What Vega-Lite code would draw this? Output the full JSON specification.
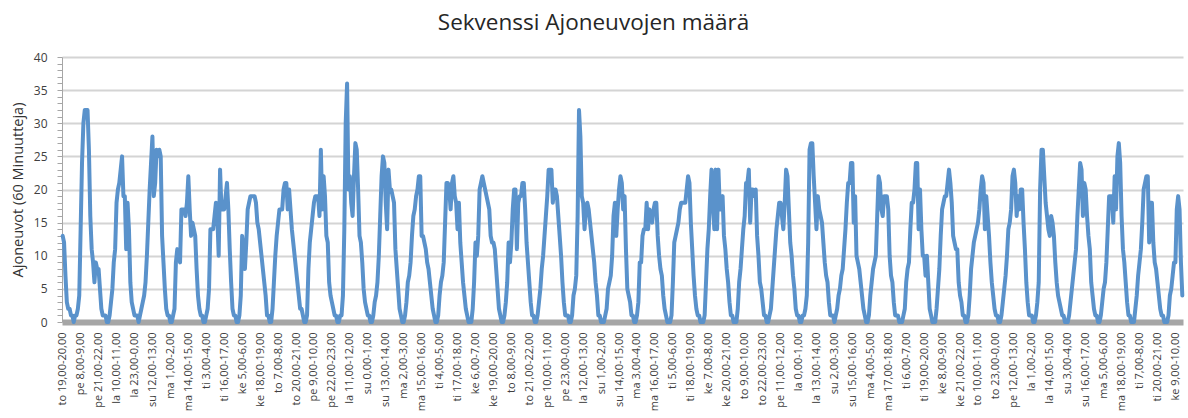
{
"$schema": "https://vega.github.io/schema/vega-lite/v6.json",
"width": 1121, "height": 265,
"autosize": {"type": "none"},
"padding": {"left": 62, "top": 57, "right": 5, "bottom": 96},
"background": "white",
"config": {"view": {"stroke": null}},
"title": {"text": "Sekvenssi Ajoneuvojen määrä", "font": "Open Sans", "fontSize": 22.5, "fontWeight": "normal", "color": "#262626", "anchor": "middle", "dx": -29, "offset": 17},
"data": {"values": [
{"i":0,"v":13},{"i":1,"v":12},{"i":2,"v":7},{"i":3,"v":3},{"i":4,"v":2},
{"i":5,"v":2},{"i":6,"v":1},{"i":7,"v":1},{"i":8,"v":0},{"i":9,"v":1},{"i":10,"v":1},{"i":11,"v":2},{"i":12,"v":4},{"i":13,"v":14},{"i":14,"v":24},{"i":15,"v":30},{"i":16,"v":32},{"i":17,"v":32},{"i":18,"v":32},{"i":19,"v":26},{"i":20,"v":16},{"i":21,"v":11},{"i":22,"v":9},{"i":23,"v":6},{"i":24,"v":9},{"i":25,"v":8},{"i":26,"v":8},{"i":27,"v":5},{"i":28,"v":2},
{"i":29,"v":1},{"i":30,"v":1},{"i":31,"v":1},{"i":32,"v":0},{"i":33,"v":0},{"i":34,"v":1},{"i":35,"v":3},{"i":36,"v":5},{"i":37,"v":9},{"i":38,"v":11},{"i":39,"v":18},{"i":40,"v":20},{"i":41,"v":21},{"i":42,"v":23},{"i":43,"v":25},{"i":44,"v":19},{"i":45,"v":19},{"i":46,"v":11},{"i":47,"v":18},{"i":48,"v":14},{"i":49,"v":6},{"i":50,"v":3},{"i":51,"v":2},{"i":52,"v":1},
{"i":53,"v":1},{"i":54,"v":1},{"i":55,"v":0},{"i":56,"v":1},{"i":57,"v":2},{"i":58,"v":3},{"i":59,"v":4},{"i":60,"v":6},{"i":61,"v":10},{"i":62,"v":15},{"i":63,"v":20},{"i":64,"v":24},{"i":65,"v":28},{"i":66,"v":19},{"i":67,"v":21},{"i":68,"v":26},{"i":69,"v":25},{"i":70,"v":26},{"i":71,"v":25},{"i":72,"v":13},{"i":73,"v":9},{"i":74,"v":5},{"i":75,"v":2},{"i":76,"v":1},
{"i":77,"v":1},{"i":78,"v":0},{"i":79,"v":0},{"i":80,"v":1},{"i":81,"v":2},{"i":82,"v":9},{"i":83,"v":11},{"i":84,"v":10},{"i":85,"v":9},{"i":86,"v":17},{"i":87,"v":17},{"i":88,"v":17},{"i":89,"v":16},{"i":90,"v":18},{"i":91,"v":22},{"i":92,"v":17},{"i":93,"v":13},{"i":94,"v":15},{"i":95,"v":14},{"i":96,"v":13},{"i":97,"v":8},{"i":98,"v":4},{"i":99,"v":2},{"i":100,"v":1},
{"i":101,"v":1},{"i":102,"v":0},{"i":103,"v":0},{"i":104,"v":1},{"i":105,"v":2},{"i":106,"v":5},{"i":107,"v":14},{"i":108,"v":14},{"i":109,"v":14},{"i":110,"v":16},{"i":111,"v":18},{"i":112,"v":16},{"i":113,"v":10},{"i":114,"v":23},{"i":115,"v":17},{"i":116,"v":17},{"i":117,"v":17},{"i":118,"v":19},{"i":119,"v":21},{"i":120,"v":17},{"i":121,"v":11},{"i":122,"v":6},{"i":123,"v":2},{"i":124,"v":1},
{"i":125,"v":1},{"i":126,"v":0},{"i":127,"v":0},{"i":128,"v":1},{"i":129,"v":4},{"i":130,"v":13},{"i":131,"v":11},{"i":132,"v":8},{"i":133,"v":12},{"i":134,"v":17},{"i":135,"v":18},{"i":136,"v":19},{"i":137,"v":19},{"i":138,"v":19},{"i":139,"v":19},{"i":140,"v":18},{"i":141,"v":15},{"i":142,"v":14},{"i":143,"v":12},{"i":144,"v":10},{"i":145,"v":8},{"i":146,"v":6},{"i":147,"v":4},{"i":148,"v":1},
{"i":149,"v":1},{"i":150,"v":0},{"i":151,"v":0},{"i":152,"v":2},{"i":153,"v":6},{"i":154,"v":10},{"i":155,"v":13},{"i":156,"v":15},{"i":157,"v":17},{"i":158,"v":17},{"i":159,"v":17},{"i":160,"v":20},{"i":161,"v":21},{"i":162,"v":21},{"i":163,"v":17},{"i":164,"v":20},{"i":165,"v":17},{"i":166,"v":14},{"i":167,"v":12},{"i":168,"v":10},{"i":169,"v":8},{"i":170,"v":6},{"i":171,"v":4},{"i":172,"v":2},
{"i":173,"v":2},{"i":174,"v":1},{"i":175,"v":0},{"i":176,"v":0},{"i":177,"v":1},{"i":178,"v":8},{"i":179,"v":12},{"i":180,"v":14},{"i":181,"v":16},{"i":182,"v":18},{"i":183,"v":19},{"i":184,"v":19},{"i":185,"v":19},{"i":186,"v":16},{"i":187,"v":26},{"i":188,"v":17},{"i":189,"v":22},{"i":190,"v":19},{"i":191,"v":13},{"i":192,"v":12},{"i":193,"v":6},{"i":194,"v":4},{"i":195,"v":3},{"i":196,"v":2},
{"i":197,"v":1},{"i":198,"v":1},{"i":199,"v":0},{"i":200,"v":0},{"i":201,"v":1},{"i":202,"v":1},{"i":203,"v":4},{"i":204,"v":14},{"i":205,"v":30},{"i":206,"v":36},{"i":207,"v":20},{"i":208,"v":22},{"i":209,"v":18},{"i":210,"v":16},{"i":211,"v":22},{"i":212,"v":27},{"i":213,"v":26},{"i":214,"v":20},{"i":215,"v":13},{"i":216,"v":12},{"i":217,"v":9},{"i":218,"v":5},{"i":219,"v":3},{"i":220,"v":2},
{"i":221,"v":1},{"i":222,"v":1},{"i":223,"v":0},{"i":224,"v":0},{"i":225,"v":1},{"i":226,"v":3},{"i":227,"v":4},{"i":228,"v":6},{"i":229,"v":10},{"i":230,"v":16},{"i":231,"v":22},{"i":232,"v":25},{"i":233,"v":24},{"i":234,"v":18},{"i":235,"v":14},{"i":236,"v":23},{"i":237,"v":20},{"i":238,"v":20},{"i":239,"v":19},{"i":240,"v":18},{"i":241,"v":11},{"i":242,"v":8},{"i":243,"v":5},{"i":244,"v":2},
{"i":245,"v":1},{"i":246,"v":0},{"i":247,"v":0},{"i":248,"v":1},{"i":249,"v":3},{"i":250,"v":6},{"i":251,"v":7},{"i":252,"v":9},{"i":253,"v":13},{"i":254,"v":16},{"i":255,"v":17},{"i":256,"v":19},{"i":257,"v":20},{"i":258,"v":22},{"i":259,"v":22},{"i":260,"v":13},{"i":261,"v":13},{"i":262,"v":12},{"i":263,"v":11},{"i":264,"v":9},{"i":265,"v":8},{"i":266,"v":6},{"i":267,"v":4},{"i":268,"v":2},
{"i":269,"v":1},{"i":270,"v":0},{"i":271,"v":0},{"i":272,"v":1},{"i":273,"v":4},{"i":274,"v":6},{"i":275,"v":7},{"i":276,"v":9},{"i":277,"v":15},{"i":278,"v":21},{"i":279,"v":21},{"i":280,"v":20},{"i":281,"v":17},{"i":282,"v":21},{"i":283,"v":22},{"i":284,"v":19},{"i":285,"v":18},{"i":286,"v":14},{"i":287,"v":18},{"i":288,"v":12},{"i":289,"v":9},{"i":290,"v":6},{"i":291,"v":4},{"i":292,"v":2},
{"i":293,"v":1},{"i":294,"v":0},{"i":295,"v":0},{"i":296,"v":0},{"i":297,"v":2},{"i":298,"v":6},{"i":299,"v":12},{"i":300,"v":10},{"i":301,"v":13},{"i":302,"v":20},{"i":303,"v":21},{"i":304,"v":22},{"i":305,"v":21},{"i":306,"v":20},{"i":307,"v":19},{"i":308,"v":18},{"i":309,"v":17},{"i":310,"v":13},{"i":311,"v":12},{"i":312,"v":12},{"i":313,"v":11},{"i":314,"v":8},{"i":315,"v":5},{"i":316,"v":2},
{"i":317,"v":1},{"i":318,"v":0},{"i":319,"v":0},{"i":320,"v":1},{"i":321,"v":3},{"i":322,"v":6},{"i":323,"v":12},{"i":324,"v":9},{"i":325,"v":12},{"i":326,"v":17},{"i":327,"v":20},{"i":328,"v":20},{"i":329,"v":11},{"i":330,"v":18},{"i":331,"v":19},{"i":332,"v":19},{"i":333,"v":21},{"i":334,"v":21},{"i":335,"v":17},{"i":336,"v":12},{"i":337,"v":9},{"i":338,"v":6},{"i":339,"v":3},{"i":340,"v":1},
{"i":341,"v":1},{"i":342,"v":0},{"i":343,"v":0},{"i":344,"v":1},{"i":345,"v":3},{"i":346,"v":5},{"i":347,"v":8},{"i":348,"v":10},{"i":349,"v":13},{"i":350,"v":16},{"i":351,"v":19},{"i":352,"v":23},{"i":353,"v":23},{"i":354,"v":23},{"i":355,"v":18},{"i":356,"v":20},{"i":357,"v":20},{"i":358,"v":19},{"i":359,"v":16},{"i":360,"v":13},{"i":361,"v":10},{"i":362,"v":6},{"i":363,"v":3},{"i":364,"v":1},
{"i":365,"v":1},{"i":366,"v":1},{"i":367,"v":0},{"i":368,"v":0},{"i":369,"v":1},{"i":370,"v":4},{"i":371,"v":5},{"i":372,"v":7},{"i":373,"v":16},{"i":374,"v":32},{"i":375,"v":28},{"i":376,"v":19},{"i":377,"v":18},{"i":378,"v":14},{"i":379,"v":17},{"i":380,"v":18},{"i":381,"v":17},{"i":382,"v":15},{"i":383,"v":13},{"i":384,"v":11},{"i":385,"v":9},{"i":386,"v":6},{"i":387,"v":4},{"i":388,"v":1},
{"i":389,"v":1},{"i":390,"v":0},{"i":391,"v":0},{"i":392,"v":0},{"i":393,"v":1},{"i":394,"v":2},{"i":395,"v":5},{"i":396,"v":6},{"i":397,"v":7},{"i":398,"v":10},{"i":399,"v":16},{"i":400,"v":18},{"i":401,"v":13},{"i":402,"v":17},{"i":403,"v":20},{"i":404,"v":22},{"i":405,"v":21},{"i":406,"v":17},{"i":407,"v":19},{"i":408,"v":11},{"i":409,"v":5},{"i":410,"v":4},{"i":411,"v":3},{"i":412,"v":1},
{"i":413,"v":1},{"i":414,"v":0},{"i":415,"v":0},{"i":416,"v":1},{"i":417,"v":3},{"i":418,"v":9},{"i":419,"v":9},{"i":420,"v":13},{"i":421,"v":14},{"i":422,"v":14},{"i":423,"v":18},{"i":424,"v":14},{"i":425,"v":17},{"i":426,"v":16},{"i":427,"v":15},{"i":428,"v":17},{"i":429,"v":18},{"i":430,"v":18},{"i":431,"v":13},{"i":432,"v":10},{"i":433,"v":8},{"i":434,"v":7},{"i":435,"v":4},{"i":436,"v":2},
{"i":437,"v":1},{"i":438,"v":0},{"i":439,"v":0},{"i":440,"v":0},{"i":441,"v":1},{"i":442,"v":6},{"i":443,"v":12},{"i":444,"v":13},{"i":445,"v":14},{"i":446,"v":15},{"i":447,"v":17},{"i":448,"v":18},{"i":449,"v":18},{"i":450,"v":18},{"i":451,"v":18},{"i":452,"v":20},{"i":453,"v":22},{"i":454,"v":21},{"i":455,"v":15},{"i":456,"v":11},{"i":457,"v":7},{"i":458,"v":4},{"i":459,"v":2},{"i":460,"v":1},
{"i":461,"v":1},{"i":462,"v":0},{"i":463,"v":0},{"i":464,"v":0},{"i":465,"v":1},{"i":466,"v":6},{"i":467,"v":11},{"i":468,"v":14},{"i":469,"v":19},{"i":470,"v":23},{"i":471,"v":18},{"i":472,"v":14},{"i":473,"v":23},{"i":474,"v":14},{"i":475,"v":23},{"i":476,"v":17},{"i":477,"v":17},{"i":478,"v":19},{"i":479,"v":13},{"i":480,"v":11},{"i":481,"v":8},{"i":482,"v":6},{"i":483,"v":3},{"i":484,"v":1},
{"i":485,"v":1},{"i":486,"v":0},{"i":487,"v":0},{"i":488,"v":0},{"i":489,"v":2},{"i":490,"v":6},{"i":491,"v":8},{"i":492,"v":11},{"i":493,"v":14},{"i":494,"v":16},{"i":495,"v":21},{"i":496,"v":21},{"i":497,"v":23},{"i":498,"v":15},{"i":499,"v":20},{"i":500,"v":20},{"i":501,"v":19},{"i":502,"v":20},{"i":503,"v":13},{"i":504,"v":10},{"i":505,"v":6},{"i":506,"v":5},{"i":507,"v":3},{"i":508,"v":1},
{"i":509,"v":1},{"i":510,"v":0},{"i":511,"v":0},{"i":512,"v":1},{"i":513,"v":2},{"i":514,"v":5},{"i":515,"v":8},{"i":516,"v":11},{"i":517,"v":14},{"i":518,"v":16},{"i":519,"v":18},{"i":520,"v":18},{"i":521,"v":16},{"i":522,"v":14},{"i":523,"v":18},{"i":524,"v":23},{"i":525,"v":22},{"i":526,"v":17},{"i":527,"v":12},{"i":528,"v":10},{"i":529,"v":7},{"i":530,"v":5},{"i":531,"v":2},{"i":532,"v":1},
{"i":533,"v":1},{"i":534,"v":0},{"i":535,"v":0},{"i":536,"v":1},{"i":537,"v":1},{"i":538,"v":2},{"i":539,"v":4},{"i":540,"v":12},{"i":541,"v":26},{"i":542,"v":27},{"i":543,"v":27},{"i":544,"v":22},{"i":545,"v":18},{"i":546,"v":14},{"i":547,"v":19},{"i":548,"v":17},{"i":549,"v":16},{"i":550,"v":15},{"i":551,"v":12},{"i":552,"v":9},{"i":553,"v":7},{"i":554,"v":6},{"i":555,"v":3},{"i":556,"v":1},
{"i":557,"v":1},{"i":558,"v":1},{"i":559,"v":0},{"i":560,"v":1},{"i":561,"v":2},{"i":562,"v":4},{"i":563,"v":5},{"i":564,"v":7},{"i":565,"v":8},{"i":566,"v":11},{"i":567,"v":14},{"i":568,"v":18},{"i":569,"v":21},{"i":570,"v":21},{"i":571,"v":24},{"i":572,"v":24},{"i":573,"v":15},{"i":574,"v":19},{"i":575,"v":10},{"i":576,"v":9},{"i":577,"v":8},{"i":578,"v":6},{"i":579,"v":4},{"i":580,"v":2},
{"i":581,"v":1},{"i":582,"v":0},{"i":583,"v":0},{"i":584,"v":1},{"i":585,"v":4},{"i":586,"v":6},{"i":587,"v":8},{"i":588,"v":9},{"i":589,"v":10},{"i":590,"v":16},{"i":591,"v":22},{"i":592,"v":21},{"i":593,"v":17},{"i":594,"v":16},{"i":595,"v":19},{"i":596,"v":19},{"i":597,"v":19},{"i":598,"v":17},{"i":599,"v":10},{"i":600,"v":7},{"i":601,"v":6},{"i":602,"v":3},{"i":603,"v":1},{"i":604,"v":1},
{"i":605,"v":1},{"i":606,"v":0},{"i":607,"v":0},{"i":608,"v":0},{"i":609,"v":1},{"i":610,"v":2},{"i":611,"v":6},{"i":612,"v":8},{"i":613,"v":9},{"i":614,"v":14},{"i":615,"v":18},{"i":616,"v":18},{"i":617,"v":20},{"i":618,"v":24},{"i":619,"v":24},{"i":620,"v":14},{"i":621,"v":20},{"i":622,"v":14},{"i":623,"v":10},{"i":624,"v":10},{"i":625,"v":7},{"i":626,"v":10},{"i":627,"v":6},{"i":628,"v":2},
{"i":629,"v":1},{"i":630,"v":0},{"i":631,"v":0},{"i":632,"v":0},{"i":633,"v":2},{"i":634,"v":5},{"i":635,"v":8},{"i":636,"v":13},{"i":637,"v":17},{"i":638,"v":18},{"i":639,"v":19},{"i":640,"v":19},{"i":641,"v":21},{"i":642,"v":23},{"i":643,"v":21},{"i":644,"v":18},{"i":645,"v":13},{"i":646,"v":12},{"i":647,"v":11},{"i":648,"v":11},{"i":649,"v":6},{"i":650,"v":4},{"i":651,"v":3},{"i":652,"v":1},
{"i":653,"v":1},{"i":654,"v":0},{"i":655,"v":0},{"i":656,"v":1},{"i":657,"v":4},{"i":658,"v":8},{"i":659,"v":10},{"i":660,"v":12},{"i":661,"v":13},{"i":662,"v":14},{"i":663,"v":15},{"i":664,"v":17},{"i":665,"v":20},{"i":666,"v":22},{"i":667,"v":21},{"i":668,"v":14},{"i":669,"v":19},{"i":670,"v":16},{"i":671,"v":13},{"i":672,"v":9},{"i":673,"v":6},{"i":674,"v":4},{"i":675,"v":2},{"i":676,"v":1},
{"i":677,"v":1},{"i":678,"v":0},{"i":679,"v":0},{"i":680,"v":1},{"i":681,"v":3},{"i":682,"v":5},{"i":683,"v":7},{"i":684,"v":10},{"i":685,"v":14},{"i":686,"v":15},{"i":687,"v":17},{"i":688,"v":22},{"i":689,"v":23},{"i":690,"v":21},{"i":691,"v":16},{"i":692,"v":19},{"i":693,"v":17},{"i":694,"v":20},{"i":695,"v":20},{"i":696,"v":15},{"i":697,"v":11},{"i":698,"v":6},{"i":699,"v":3},{"i":700,"v":1},
{"i":701,"v":1},{"i":702,"v":1},{"i":703,"v":0},{"i":704,"v":0},{"i":705,"v":1},{"i":706,"v":3},{"i":707,"v":6},{"i":708,"v":20},{"i":709,"v":26},{"i":710,"v":26},{"i":711,"v":22},{"i":712,"v":18},{"i":713,"v":16},{"i":714,"v":14},{"i":715,"v":13},{"i":716,"v":16},{"i":717,"v":15},{"i":718,"v":13},{"i":719,"v":9},{"i":720,"v":6},{"i":721,"v":4},{"i":722,"v":3},{"i":723,"v":2},{"i":724,"v":1},
{"i":725,"v":1},{"i":726,"v":0},{"i":727,"v":0},{"i":728,"v":0},{"i":729,"v":1},{"i":730,"v":3},{"i":731,"v":5},{"i":732,"v":7},{"i":733,"v":9},{"i":734,"v":11},{"i":735,"v":16},{"i":736,"v":20},{"i":737,"v":24},{"i":738,"v":23},{"i":739,"v":16},{"i":740,"v":21},{"i":741,"v":20},{"i":742,"v":16},{"i":743,"v":13},{"i":744,"v":11},{"i":745,"v":6},{"i":746,"v":4},{"i":747,"v":2},{"i":748,"v":1},
{"i":749,"v":1},{"i":750,"v":0},{"i":751,"v":0},{"i":752,"v":1},{"i":753,"v":3},{"i":754,"v":5},{"i":755,"v":6},{"i":756,"v":9},{"i":757,"v":14},{"i":758,"v":19},{"i":759,"v":19},{"i":760,"v":19},{"i":761,"v":15},{"i":762,"v":22},{"i":763,"v":17},{"i":764,"v":25},{"i":765,"v":27},{"i":766,"v":24},{"i":767,"v":16},{"i":768,"v":11},{"i":769,"v":9},{"i":770,"v":6},{"i":771,"v":3},{"i":772,"v":1},
{"i":773,"v":1},{"i":774,"v":0},{"i":775,"v":0},{"i":776,"v":0},{"i":777,"v":2},{"i":778,"v":4},{"i":779,"v":7},{"i":780,"v":9},{"i":781,"v":11},{"i":782,"v":15},{"i":783,"v":20},{"i":784,"v":21},{"i":785,"v":22},{"i":786,"v":22},{"i":787,"v":12},{"i":788,"v":18},{"i":789,"v":18},{"i":790,"v":12},{"i":791,"v":9},{"i":792,"v":8},{"i":793,"v":6},{"i":794,"v":4},{"i":795,"v":2},{"i":796,"v":1},
{"i":797,"v":1},{"i":798,"v":0},{"i":799,"v":0},{"i":800,"v":0},{"i":801,"v":1},{"i":802,"v":4},{"i":803,"v":5},{"i":804,"v":7},{"i":805,"v":9},{"i":806,"v":9},{"i":807,"v":17},{"i":808,"v":19},{"i":809,"v":17},{"i":810,"v":9},{"i":811,"v":4}
]},
"mark": {"type": "line", "color": "#5a92cb", "strokeWidth": 4, "strokeJoin": "round", "strokeCap": "round"},
"encoding": {
"x": {"field": "i", "type": "quantitative",
 "scale": {"domain": [-0.5, 811.5], "nice": false, "zero": false},
 "axis": {"title": null, "grid": false, "ticks": false,
  "values": [0,13,26,39,52,65,78,91,104,117,130,143,156,169,182,195,208,221,234,247,260,273,286,299,312,325,338,351,364,377,390,403,416,429,442,455,468,481,494,507,520,533,546,559,572,585,598,611,624,637,650,663,676,689,702,715,728,741,754,767,780,793,806],
  "labelExpr": "['to 19,00-20,00','pe 8,00-9,00','pe 21,00-22,00','la 10,00-11,00','la 23,00-0,00','su 12,00-13,00','ma 1,00-2,00','ma 14,00-15,00','ti 3,00-4,00','ti 16,00-17,00','ke 5,00-6,00','ke 18,00-19,00','to 7,00-8,00','to 20,00-21,00','pe 9,00-10,00','pe 22,00-23,00','la 11,00-12,00','su 0,00-1,00','su 13,00-14,00','ma 2,00-3,00','ma 15,00-16,00','ti 4,00-5,00','ti 17,00-18,00','ke 6,00-7,00','ke 19,00-20,00','to 8,00-9,00','to 21,00-22,00','pe 10,00-11,00','pe 23,00-0,00','la 12,00-13,00','su 1,00-2,00','su 14,00-15,00','ma 3,00-4,00','ma 16,00-17,00','ti 5,00-6,00','ti 18,00-19,00','ke 7,00-8,00','ke 20,00-21,00','to 9,00-10,00','to 22,00-23,00','pe 11,00-12,00','la 0,00-1,00','la 13,00-14,00','su 2,00-3,00','su 15,00-16,00','ma 4,00-5,00','ma 17,00-18,00','ti 6,00-7,00','ti 19,00-20,00','ke 8,00-9,00','ke 21,00-22,00','to 10,00-11,00','to 23,00-0,00','pe 12,00-13,00','la 1,00-2,00','la 14,00-15,00','su 3,00-4,00','su 16,00-17,00','ma 5,00-6,00','ma 18,00-19,00','ti 7,00-8,00','ti 20,00-21,00','ke 9,00-10,00'][round(datum.value/13)]",
  "labelAngle": -90, "labelAlign": "right", "labelBaseline": "middle",
  "labelFont": "Open Sans", "labelFontSize": 11, "labelColor": "#404040",
  "labelPadding": 10, "labelOverlap": false, "labelBound": false, "labelFlush": false,
  "domainColor": "#a6a6a6", "domainWidth": 6}},
"y": {"field": "v", "type": "quantitative",
 "scale": {"domain": [0, 40], "nice": false},
 "axis": {"title": "Ajoneuvot (60 Minuutteja)", "titleFont": "Open Sans", "titleFontSize": 14.5, "titleFontWeight": "normal", "titleColor": "#333333", "titlePadding": 8,
  "values": [0,1,2,3,4,5,6,7,8,9,10,11,12,13,14,15,16,17,18,19,20,21,22,23,24,25,26,27,28,29,30,31,32,33,34,35,36,37,38,39,40],
  "labelExpr": "datum.value % 5 === 0 ? datum.label : ''",
  "labelFont": "Open Sans", "labelFontSize": 12, "labelColor": "#404040", "labelPadding": 10,
  "tickSize": 5, "tickColor": "#a6a6a6", "domainColor": "#a6a6a6",
  "grid": true, "gridColor": "#d4d4d4", "gridWidth": 2,
  "gridOpacity": {"condition": {"test": "datum.value % 5 === 0 && datum.value > 0", "value": 1}, "value": 0}}}
}
}
